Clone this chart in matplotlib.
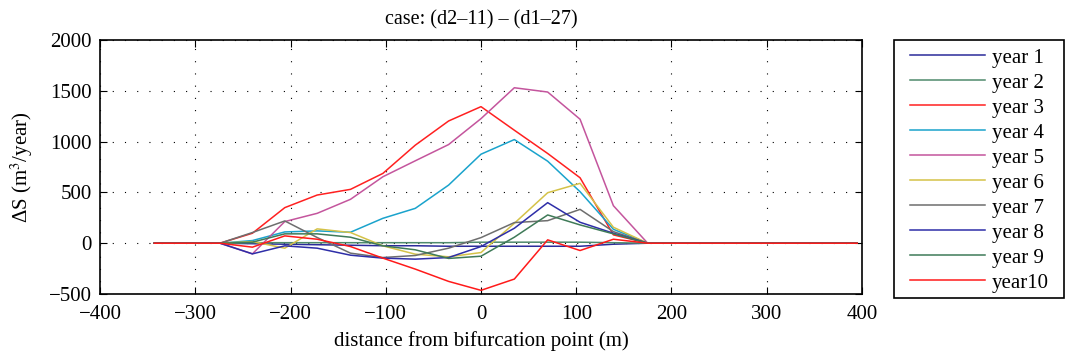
import matplotlib
matplotlib.use("Agg")
import matplotlib.pyplot as plt
from matplotlib.patches import Rectangle

plt.rcParams['font.family'] = ['Liberation Serif', 'DejaVu Serif']
plt.rcParams['mathtext.fontset'] = 'stix'

# distance from bifurcation point (m)
distance = [-343, -309, -274, -240, -206, -172, -137, -103, -69, -34, 0,
            35, 70, 104, 139, 175, 206, 240, 274, 309, 343, 395]

year1 = [0, 0, 0, -5, -10, -15, -20, -25, -25, -30, -30, -30, -30, -30, -10, 0, 0, 0, 0, 0, 0, 0]
year2 = [0, 0, 0, 5, 5, 5, 5, 5, 5, 5, 10, 10, 10, 10, 5, 0, 0, 0, 0, 0, 0, 0]
year3 = [0, 0, 0, 98, 350, 474, 530, 687, 965, 1203, 1344, 1112, 883, 644, 82, 0, 0, 0, 0, 0, 0, 0]
year4 = [0, 0, 0, 26, 111, 121, 108, 245, 343, 572, 876, 1020, 807, 507, 137, 0, 0, 0, 0, 0, 0, 0]
year5 = [0, 0, 0, -105, 213, 294, 432, 654, 811, 971, 1226, 1530, 1488, 1220, 369, 0, 0, 0, 0, 0, 0, 0]
year6 = [0, 0, 0, 16, -49, 141, 105, -26, -108, -134, -92, 196, 497, 589, 157, 0, 0, 0, 0, 0, 0, 0]
year7 = [0, 0, 0, 105, 219, 56, -98, -141, -121, -49, 55, 203, 222, 333, 114, 0, 0, 0, 0, 0, 0, 0]
year8 = [0, 0, 0, -105, -26, -49, -118, -147, -157, -141, -33, 147, 399, 206, 98, 0, 0, 0, 0, 0, 0, 0]
year9 = [0, 0, 0, 10, 92, 92, 59, -26, -65, -150, -128, 59, 278, 180, 92, 0, 0, 0, 0, 0, 0, 0]
year10 = [0, 0, 0, -39, 72, 39, -33, -147, -255, -376, -464, -353, 33, -72, 39, 0, 0, 0, 0, 0, 0, 0]

series = [year1, year2, year3, year4, year5, year6, year7, year8, year9, year10]
labels = ['year 1', 'year 2', 'year 3', 'year 4', 'year 5',
          'year 6', 'year 7', 'year 8', 'year 9', 'year10']
colors = ['#2b2b9a', '#4f8a6c', '#ff2020', '#1aa3cc', '#c4559d',
          '#d4c248', '#6e6e6e', '#2e2ea8', '#3f7a58', '#ff1a1a']

xticks = [-400, -300, -200, -100, 0, 100, 200, 300, 400]
yticks = [-500, 0, 500, 1000, 1500, 2000]

W, H = 1066, 356
fig = plt.figure(figsize=(W / 100, H / 100), dpi=100)
ax = fig.add_axes([100 / W, 1 - 294 / H, 762 / W, 254 / H])

for y, lab, c in zip(series, labels, colors):
    ax.plot(distance, y, color=c, lw=1.1, label=lab)

ax.set_xlim(-400, 400)
ax.set_ylim(-500, 2000)
ax.set_xticks(xticks)
ax.set_yticks(yticks)
ax.set_xticklabels([str(v).replace('-', '\u2212') for v in xticks])
ax.set_yticklabels([str(v).replace('-', '\u2212') for v in yticks])
ax.tick_params(direction='in', top=True, right=True, labelsize=15, length=5, width=0.8)
ax.tick_params(axis='x', pad=8)
ax.tick_params(axis='y', pad=6)
ax.grid(True, color='black', linestyle=(0, (1, 10)), linewidth=0.8)
for s in ax.spines.values():
    s.set_linewidth(1.2)

ax.set_title('case: (d2\u201311) \u2013 (d1\u201327)', fontsize=14.5, pad=11)
ax.set_xlabel('distance from bifurcation point (m)', fontsize=15, labelpad=5)
ax.set_ylabel('\u0394S (m$^3$/year)', fontsize=15)
ax.yaxis.set_label_coords((35 - 100) / 762, 0.5)

# legend box with its own frame
fig.add_artist(Rectangle((894 / W, 1 - 298 / H), 170 / W, 258 / H,
                         transform=fig.transFigure, fill=False,
                         edgecolor='black', linewidth=1.2))
handles, labs = ax.get_legend_handles_labels()
fig.legend(handles, labs, loc='upper left', bbox_to_anchor=(910 / W, 1 - 48 / H),
           fontsize=15, frameon=False, handlelength=3.6, handletextpad=0.34,
           labelspacing=0.26, borderpad=0.0, borderaxespad=0.0)

fig.savefig('out.png', dpi=100)
